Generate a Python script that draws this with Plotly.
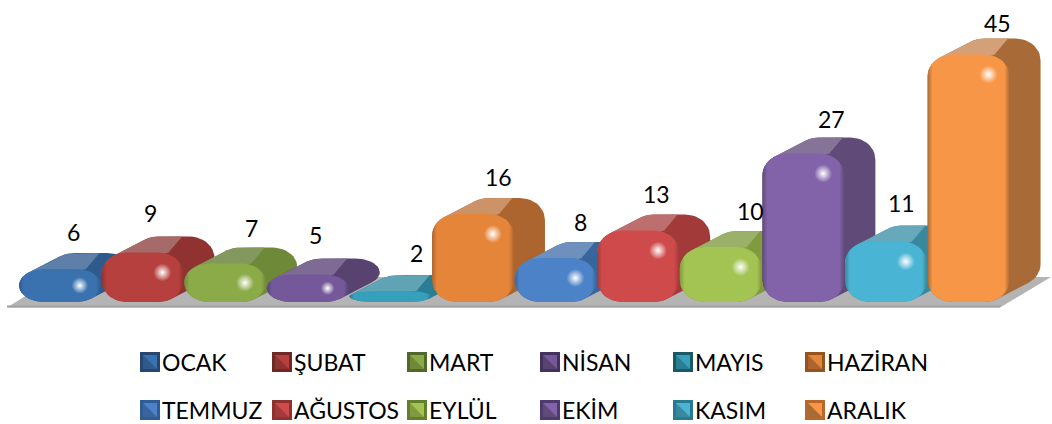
import plotly.graph_objects as go
import numpy as np

months = ["OCAK", "ŞUBAT", "MART", "NİSAN", "MAYIS", "HAZİRAN",
          "TEMMUZ", "AĞUSTOS", "EYLÜL", "EKİM", "KASIM", "ARALIK"]
values = [6, 9, 7, 5, 2, 16, 8, 13, 10, 27, 11, 45]
front_colors = ["#3A72B0", "#B5403D", "#8BAA48", "#75589A", "#36A0BC", "#E5853A",
                "#4B82C8", "#CF4A4A", "#A3C352", "#8262A8", "#49B4D3", "#F79646"]
side_colors = ["#2F5A8C", "#8F3230", "#6E8A38", "#58426F", "#2A7E94", "#AD6530",
               "#3A659C", "#A23A3A", "#81993F", "#5F4A78", "#39889F", "#A86A36"]
top_colors = ["#5D7FA8", "#A66A68", "#82985C", "#7D6B93", "#5FA3B4", "#CC9268",
              "#6D90BC", "#BD6F6F", "#9BB068", "#857498", "#67A8BB", "#D4A078"]
legend_colors = ["#264670", "#6E2826", "#53672A", "#43325E", "#1B5866", "#95531E",
                 "#2F5C94", "#8E3230", "#627F2E", "#4F3A70", "#277A90", "#B9682A"]
label_xshift = [-2, -8, 11, -8, 11, 10, 9, 3, 14, 13, 0, 13]
label_yshift = [21, 24, 20, 24, 22, 21, 20, 21, 20, 19, 23, 16]
legend_col_px = [150, 282, 417, 550, 683, 815]
legend_row_px = [362, 410]

PX_CAT, PX_VAL = 82.6, 5.5
X0_PX, Y0_PX = 60, 302
WIDTH = 0.496
DX, DY = 31 / PX_CAT, 16 / PX_VAL
RX = 25 / PX_CAT
RY = 22 / PX_VAL
FONT = "Lato, Carlito, sans-serif"


def px(xp, yp):
    return (xp - X0_PX) / PX_CAT, (Y0_PX - yp) / PX_VAL


def rounded(x0, x1, y0, y1, rx, ry, n=12):
    corners = [(x1 - rx, y0 + ry, -90, 0), (x1 - rx, y1 - ry, 0, 90),
               (x0 + rx, y1 - ry, 90, 180), (x0 + rx, y0 + ry, 180, 270)]
    pts = []
    for cx, cy, a, b in corners:
        for t in np.radians(np.linspace(a, b, n)):
            pts.append((cx + rx * np.cos(t), cy + ry * np.sin(t)))
    return pts


def hull(points):
    pts = sorted(set(points), key=lambda p: (p[0], p[1]))
    def cross(o, a, b):
        return (a[0]-o[0])*(b[1]-o[1])*PX_VAL*PX_CAT - (a[1]-o[1])*(b[0]-o[0])*PX_VAL*PX_CAT
    lo, up = [], []
    for p in pts:
        while len(lo) >= 2 and cross(lo[-2], lo[-1], p) <= 0:
            lo.pop()
        lo.append(p)
    for p in reversed(pts):
        while len(up) >= 2 and cross(up[-2], up[-1], p) <= 0:
            up.pop()
        up.append(p)
    return lo[:-1] + up[:-1]


def poly(points, **kw):
    xs = [p[0] for p in points] + [points[0][0]]
    ys = [p[1] for p in points] + [points[0][1]]
    return go.Scatter(x=xs, y=ys, mode="lines", line=dict(width=0), fill="toself",
                      hoverinfo="skip", showlegend=False, **kw)


fig = go.Figure()

# floor
fig.add_trace(poly([px(7, 307.5), px(1000, 307.5), px(1051, 277), px(56, 277)], fillcolor="#B4B4B4"))
fig.add_trace(poly([px(7, 305.5), px(1001, 305.5), px(1000, 307.5), px(7, 307.5)], fillcolor="#A2A2A2"))

for i, (m, v) in enumerate(zip(months, values)):
    x0, x1 = i - WIDTH, i + WIDTH
    ry = min(RY, v / 2)
    f = rounded(x0, x1, 0, v, RX, ry)
    b = [(px_ + DX, py_ + DY) for px_, py_ in f]
    fig.add_trace(poly(hull(f + b), fillcolor=side_colors[i]))
    up_f = [p for p in f if p[1] >= v - ry and p[0] < i]
    up_b = [(p[0] + DX, p[1] + DY) for p in up_f]
    top = hull(up_f + up_b + [(x1 - 0.6 * RX, v), (x1 + DX - 1.3 * RX, v + DY)])
    fig.add_trace(poly(top, fillcolor=top_colors[i]))
    c, s = front_colors[i], side_colors[i]
    fig.add_trace(poly(f, name=m, fillcolor=c,
                       fillgradient=dict(type="horizontal",
                                         colorscale=[[0, s], [0.06, c], [0.5, c], [0.94, c], [1, s]])))
    h = v * PX_VAL
    if h > 15:
        size = min(18, h * 0.5)
        fig.add_trace(go.Scatter(
            x=[i + 0.24], y=[v - min(20, h / 2) / PX_VAL], mode="markers", hoverinfo="skip",
            showlegend=False,
            marker=dict(size=size, color=c, line=dict(width=0),
                        gradient=dict(type="radial", color="#FFFFFF"))))

for i, (m, v) in enumerate(zip(months, values)):
    fig.add_annotation(x=i + DX / 2, y=v + DY, text=str(v), showarrow=False,
                       font=dict(family=FONT, size=23, color="#000000"),
                       xshift=label_xshift[i], yshift=label_yshift[i])

# legend: two rows of six bevelled swatches with their month names
for i, m in enumerate(months):
    cx, cy = legend_col_px[i % 6], legend_row_px[i // 6]
    fig.add_trace(poly([px(cx - 10, cy - 10), px(cx + 10, cy - 10), px(cx + 10, cy + 10), px(cx - 10, cy + 10)],
                       name=m, fillcolor=legend_colors[i]))
    fig.add_trace(poly([px(cx - 7, cy - 7), px(cx + 7, cy - 7), px(cx + 7, cy + 7), px(cx - 7, cy + 7)],
                       fillcolor=side_colors[i]))
    fig.add_trace(poly([px(cx - 7, cy - 7), px(cx + 7, cy - 7), px(cx + 7, cy + 7)],
                       fillcolor=front_colors[i]))
    lx, ly = px(cx, cy)
    fig.add_annotation(x=lx, y=ly, text=m, showarrow=False, xanchor="left", xshift=10,
                       font=dict(family=FONT, size=23, color="#000000"))

fig.update_layout(
    width=1052, height=424, margin=dict(l=0, r=0, t=0, b=0),
    paper_bgcolor="white", plot_bgcolor="white", showlegend=False,
    xaxis=dict(range=[-X0_PX / PX_CAT, (1052 - X0_PX) / PX_CAT], visible=False, fixedrange=True),
    yaxis=dict(range=[-(424 - Y0_PX) / PX_VAL, Y0_PX / PX_VAL], visible=False, fixedrange=True),
)
fig.write_html("out.html", config={"displayModeBar": False},
               post_script="document.body.style.margin='0';document.body.style.overflow='hidden';")
